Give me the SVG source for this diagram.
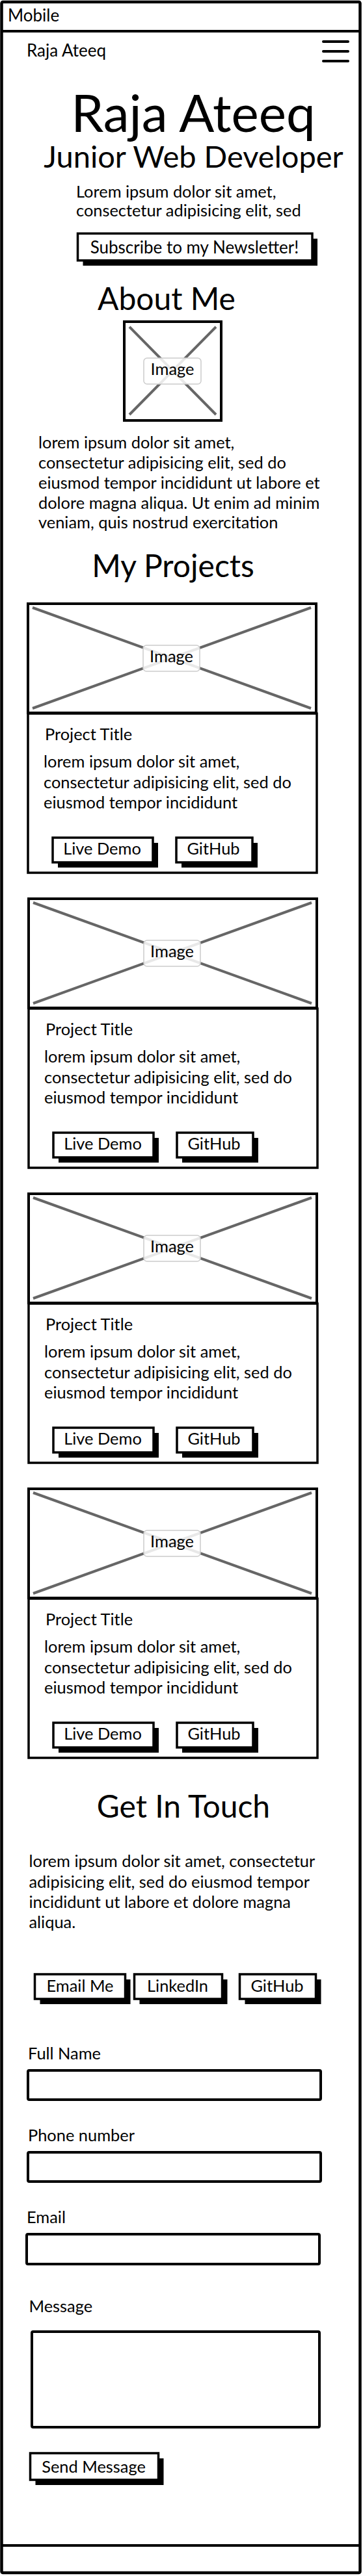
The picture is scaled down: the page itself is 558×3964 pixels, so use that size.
<svg xmlns="http://www.w3.org/2000/svg" width="558" height="3964" viewBox="0 0 558 3964">
<style>
.t{font-family:Lato,"Noto Sans","Liberation Sans",sans-serif;fill:#000}
.s24{font-size:25.4px}
.h2{font-size:48px}
.frame{fill:#fff;stroke:#000;stroke-width:4.5}
.line{stroke:#000;stroke-width:4}
.img{fill:#fff;stroke:#000;stroke-width:4}
.box{fill:#fff;stroke:#000;stroke-width:3.5}
.x{stroke:#666;stroke-width:4}
.lbl{fill:#fff;fill-opacity:0.85;stroke:#ccc;stroke-width:1.5}
.btn{fill:#fff;stroke:#000;stroke-width:3.5}
.sh{fill:#000}
.inp{fill:#fff;stroke:#000;stroke-width:4}
.ham{stroke:#000;stroke-width:4;stroke-linecap:round}
.m{text-anchor:middle}
</style>
<g id="window">
<rect class="frame" x="2.5" y="3" width="551" height="3956" rx="2"/>
<line class="line" x1="3" y1="48" x2="553" y2="48"/>
<line class="line" x1="3" y1="3917" x2="553" y2="3917"/>
<text class="t" font-size="26" x="12" y="33">Mobile</text>
</g>
<g id="connectors"></g>
<g id="nav">
<text class="t" font-size="26" x="41" y="87">Raja Ateeq</text>
<line class="ham" x1="497" y1="64" x2="535" y2="64"/>
<line class="ham" x1="497" y1="79" x2="535" y2="79"/>
<line class="ham" x1="497" y1="94" x2="535" y2="94"/>
</g>
<g id="hero">
<text class="t m" font-size="80" x="297" y="203">Raja Ateeq</text>
<text class="t m" font-size="47" x="297.5" y="258">Junior Web Developer</text>
<text class="t s24" x="117" y="304">Lorem ipsum dolor sit amet,</text>
<text class="t s24" x="117" y="333">consectetur adipisicing elit, sed</text>
</g>
<g id="subscribe">
<rect class="sh" x="127.5" y="367.3" width="360.5" height="41.5"/>
<rect class="btn" x="119.5" y="359.3" width="360.5" height="41.5"/>
<text class="t m" font-size="26" x="299" y="390">Subscribe to my Newsletter!</text>
</g>
<g id="about">
<text class="t m h2" x="256" y="477">About Me</text>
<rect class="img" x="191" y="495" width="149" height="152"/>
<line class="x" x1="199" y1="503" x2="332" y2="638"/>
<line class="x" x1="332" y1="503" x2="199" y2="638"/>
<rect class="lbl" x="221" y="551" width="88" height="40" rx="5"/>
<text class="t m s24" x="265" y="577">Image</text>
<text class="t s24" x="59" y="690">lorem ipsum dolor sit amet,</text>
<text class="t s24" x="59" y="721">consectetur adipisicing elit, sed do</text>
<text class="t s24" x="59" y="752">eiusmod tempor incididunt ut labore et</text>
<text class="t s24" x="59" y="783">dolore magna aliqua. Ut enim ad minim</text>
<text class="t s24" x="59" y="813">veniam, quis nostrud exercitation</text>
</g>
<g id="projects-title">
<text class="t m h2" x="266" y="888">My Projects</text>
</g>
<g id="project1" transform="translate(0,927)">
<rect class="box" x="43" y="171" width="444" height="245"/>
<rect class="img" x="43" y="2" width="443" height="168"/>
<line class="x" x1="50" y1="8" x2="478" y2="163"/>
<line class="x" x1="478" y1="8" x2="50" y2="163"/>
<rect class="lbl" x="220" y="66" width="87" height="40" rx="5"/>
<text class="t m s24" x="263.5" y="92">Image</text>
<text class="t s24" x="69" y="212">Project Title</text>
<text class="t s24" x="67" y="254">lorem ipsum dolor sit amet,</text>
<text class="t s24" x="67" y="286">consectetur adipisicing elit, sed do</text>
<text class="t s24" x="67" y="317">eiusmod tempor incididunt</text>
<rect class="sh" x="89" y="370" width="154" height="38"/>
<rect class="btn" x="81" y="362" width="154" height="38"/>
<text class="t m s24" x="157" y="388">Live Demo</text>
<rect class="sh" x="279" y="370" width="117" height="38"/>
<rect class="btn" x="271" y="362" width="117" height="38"/>
<text class="t m s24" x="328" y="388">GitHub</text>
</g>
<g id="project2" transform="translate(1,1381)">
<rect class="box" x="43" y="171" width="444" height="245"/>
<rect class="img" x="43" y="2" width="443" height="168"/>
<line class="x" x1="50" y1="8" x2="478" y2="163"/>
<line class="x" x1="478" y1="8" x2="50" y2="163"/>
<rect class="lbl" x="220" y="66" width="87" height="40" rx="5"/>
<text class="t m s24" x="263.5" y="92">Image</text>
<text class="t s24" x="69" y="212">Project Title</text>
<text class="t s24" x="67" y="254">lorem ipsum dolor sit amet,</text>
<text class="t s24" x="67" y="286">consectetur adipisicing elit, sed do</text>
<text class="t s24" x="67" y="317">eiusmod tempor incididunt</text>
<rect class="sh" x="89" y="370" width="154" height="38"/>
<rect class="btn" x="81" y="362" width="154" height="38"/>
<text class="t m s24" x="157" y="388">Live Demo</text>
<rect class="sh" x="279" y="370" width="117" height="38"/>
<rect class="btn" x="271" y="362" width="117" height="38"/>
<text class="t m s24" x="328" y="388">GitHub</text>
</g>
<g id="project3" transform="translate(1,1835)">
<rect class="box" x="43" y="171" width="444" height="245"/>
<rect class="img" x="43" y="2" width="443" height="168"/>
<line class="x" x1="50" y1="8" x2="478" y2="163"/>
<line class="x" x1="478" y1="8" x2="50" y2="163"/>
<rect class="lbl" x="220" y="66" width="87" height="40" rx="5"/>
<text class="t m s24" x="263.5" y="92">Image</text>
<text class="t s24" x="69" y="212">Project Title</text>
<text class="t s24" x="67" y="254">lorem ipsum dolor sit amet,</text>
<text class="t s24" x="67" y="286">consectetur adipisicing elit, sed do</text>
<text class="t s24" x="67" y="317">eiusmod tempor incididunt</text>
<rect class="sh" x="89" y="370" width="154" height="38"/>
<rect class="btn" x="81" y="362" width="154" height="38"/>
<text class="t m s24" x="157" y="388">Live Demo</text>
<rect class="sh" x="279" y="370" width="117" height="38"/>
<rect class="btn" x="271" y="362" width="117" height="38"/>
<text class="t m s24" x="328" y="388">GitHub</text>
</g>
<g id="project4" transform="translate(1,2289)">
<rect class="box" x="43" y="171" width="444" height="245"/>
<rect class="img" x="43" y="2" width="443" height="168"/>
<line class="x" x1="50" y1="8" x2="478" y2="163"/>
<line class="x" x1="478" y1="8" x2="50" y2="163"/>
<rect class="lbl" x="220" y="66" width="87" height="40" rx="5"/>
<text class="t m s24" x="263.5" y="92">Image</text>
<text class="t s24" x="69" y="212">Project Title</text>
<text class="t s24" x="67" y="254">lorem ipsum dolor sit amet,</text>
<text class="t s24" x="67" y="286">consectetur adipisicing elit, sed do</text>
<text class="t s24" x="67" y="317">eiusmod tempor incididunt</text>
<rect class="sh" x="89" y="370" width="154" height="38"/>
<rect class="btn" x="81" y="362" width="154" height="38"/>
<text class="t m s24" x="157" y="388">Live Demo</text>
<rect class="sh" x="279" y="370" width="117" height="38"/>
<rect class="btn" x="271" y="362" width="117" height="38"/>
<text class="t m s24" x="328" y="388">GitHub</text>
</g>
<g id="contact">
<text class="t m h2" x="282" y="2797">Get In Touch</text>
<text class="t s24" x="44.5" y="2873">lorem ipsum dolor sit amet, consectetur</text>
<text class="t s24" x="44.5" y="2905">adipisicing elit, sed do eiusmod tempor</text>
<text class="t s24" x="44.5" y="2936">incididunt ut labore et dolore magna</text>
<text class="t s24" x="44.5" y="2967">aliqua.</text>
</g>
<g id="contact-buttons">
<rect class="sh" x="61.5" y="3046" width="139" height="38"/>
<rect class="btn" x="53.5" y="3038" width="139" height="38"/>
<text class="t m s24" x="123" y="3065">Email Me</text>
<rect class="sh" x="214.5" y="3046" width="135" height="38"/>
<rect class="btn" x="206.5" y="3038" width="135" height="38"/>
<text class="t m s24" x="273" y="3065">LinkedIn</text>
<rect class="sh" x="376.5" y="3046" width="117" height="38"/>
<rect class="btn" x="368.5" y="3038" width="117" height="38"/>
<text class="t m s24" x="426" y="3065">GitHub</text>
</g>
<g id="form">
<text class="t s24" x="43" y="3169">Full Name</text>
<rect class="inp" x="43" y="3186" width="450" height="45" rx="2"/>
<text class="t s24" x="43" y="3295">Phone number</text>
<rect class="inp" x="43" y="3312" width="450" height="45" rx="2"/>
<text class="t s24" x="41" y="3421">Email</text>
<rect class="inp" x="41" y="3438" width="450" height="46" rx="2"/>
<text class="t s24" x="44.5" y="3558">Message</text>
<rect class="inp" x="49" y="3588" width="442" height="147" rx="2"/>
</g>
<g id="send">
<rect class="sh" x="54.5" y="3783" width="197" height="41"/>
<rect class="btn" x="46.5" y="3775" width="197" height="41"/>
<text class="t m s24" x="144" y="3805">Send Message</text>
</g>
</svg>
